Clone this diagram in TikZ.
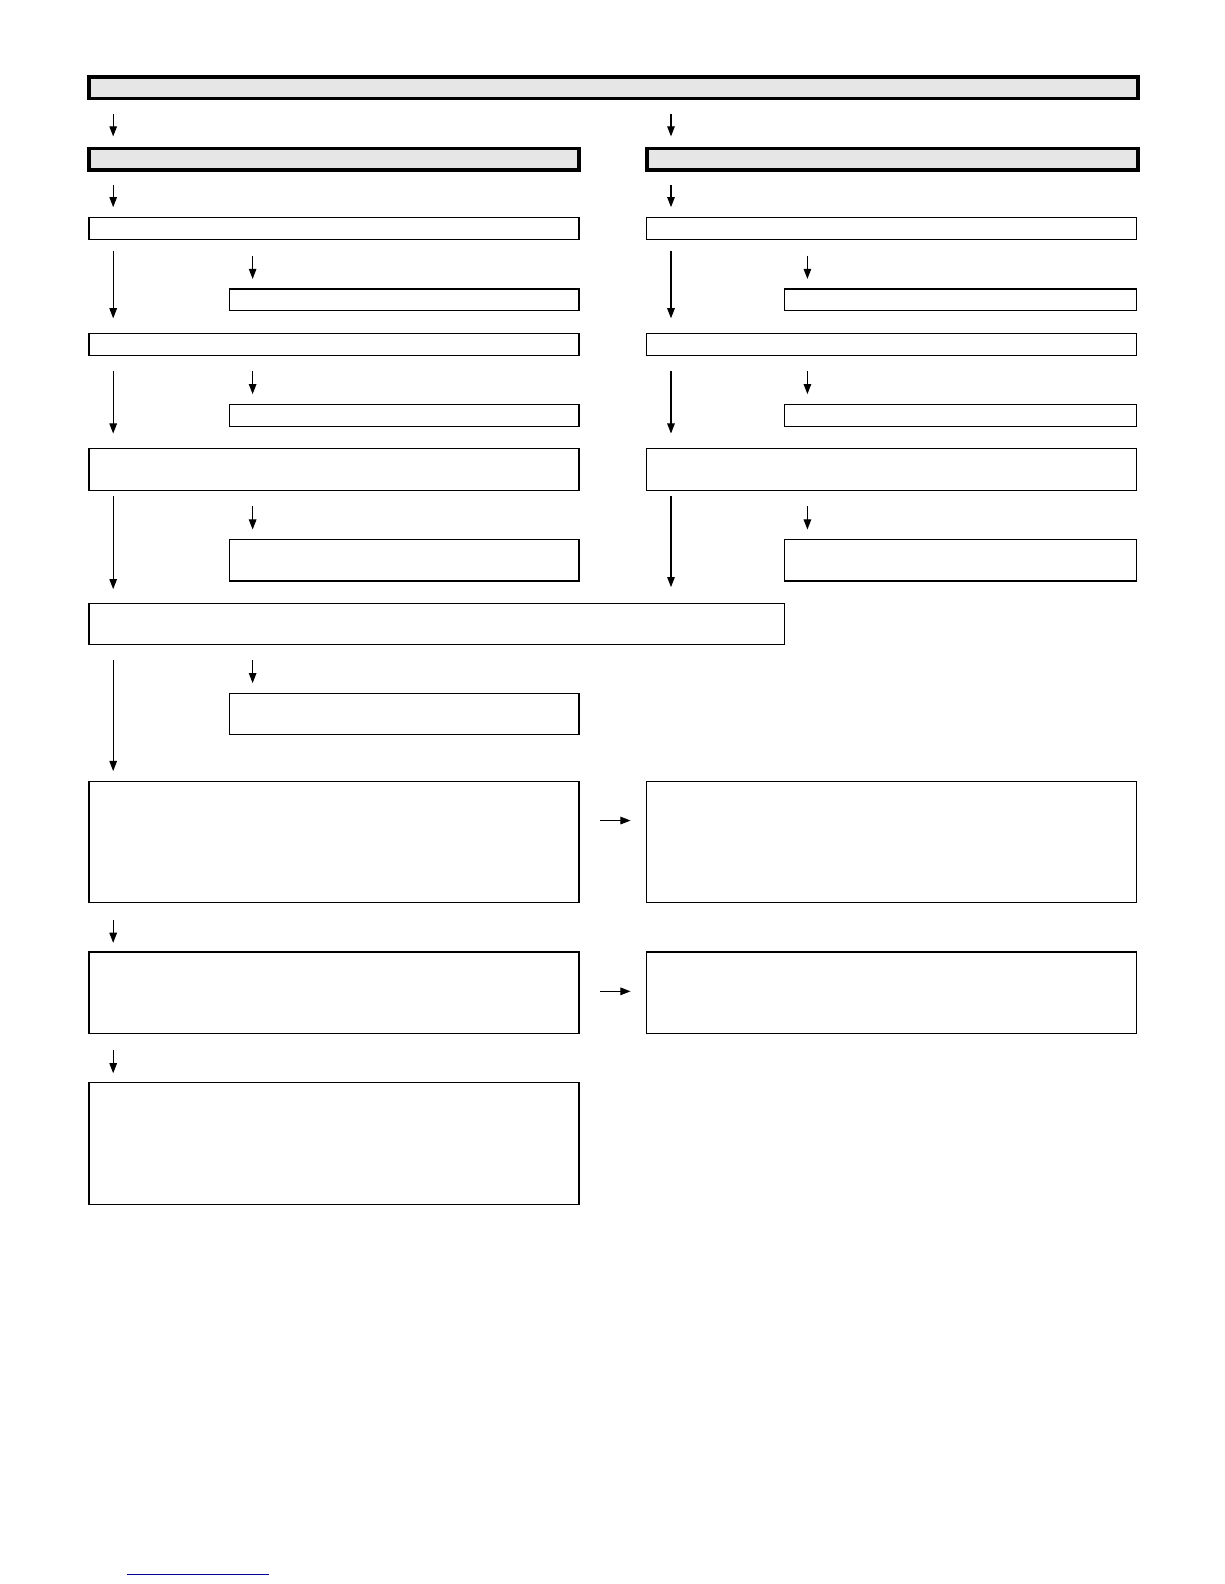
\documentclass[tikz,border=0pt]{standalone}
\usepackage{tikz}
\usetikzlibrary{arrows.meta,calc,positioning}
\definecolor{hdgray}{RGB}{230,230,230}
\definecolor{linkblue}{RGB}{0,0,150}
\tikzstyle{flowarrow} = [line width=1pt,-{Triangle[length=10pt,width=7.5pt]},shorten <=15pt,shorten >=10pt]
\tikzstyle{headbox} = [rectangle, draw, line width=3.5pt, fill=hdgray, anchor=north west, inner sep=0pt, outer sep=0pt]
\tikzstyle{stepbox} = [rectangle, draw, line width=1.2pt, anchor=north west, inner sep=0pt, outer sep=0pt]

\begin{document}
\begin{tikzpicture}[x=1pt,y=-1pt]
\useasboundingbox (0,0) rectangle (1211.3,1567.5);
% header boxes
\node[headbox, minimum width=1038pt, minimum height=21.5pt] (main) at (88,76) {};
\node[headbox, minimum width=485pt, minimum height=21pt] (headL) at (88,147) {};
\node[headbox, minimum width=486pt, minimum height=21pt] (headR) at (640,147) {};

% left and right columns
\node[stepbox, minimum width=485pt, minimum height=22pt] (r1L) at (88,215) {};
\node[stepbox, minimum width=485pt, minimum height=22pt] (r1R) at (640,215) {};
\node[stepbox, minimum width=346pt, minimum height=21pt] (s1L) at (227,286) {};
\node[stepbox, minimum width=349pt, minimum height=21pt] (s1R) at (776,286) {};
\node[stepbox, minimum width=485pt, minimum height=22pt] (r2L) at (88,330) {};
\node[stepbox, minimum width=485pt, minimum height=22pt] (r2R) at (640,330) {};
\node[stepbox, minimum width=346pt, minimum height=22pt] (s2L) at (227,400) {};
\node[stepbox, minimum width=349pt, minimum height=22pt] (s2R) at (776,400) {};
\node[stepbox, minimum width=485pt, minimum height=41pt] (r3L) at (88,444) {};
\node[stepbox, minimum width=485pt, minimum height=41pt] (r3R) at (640,444) {};
\node[stepbox, minimum width=346pt, minimum height=41pt] (s3L) at (227,534) {};
\node[stepbox, minimum width=349pt, minimum height=41pt] (s3R) at (776,534) {};

% joined part
\node[stepbox, minimum width=688pt, minimum height=41pt] (wide) at (88,597) {};
\node[stepbox, minimum width=346pt, minimum height=41pt] (s4) at (227,686) {};
\node[stepbox, minimum width=485pt, minimum height=120pt] (bigL) at (88,773) {};
\node[stepbox, minimum width=485pt, minimum height=120pt] (bigR) at (640,773) {};
\node[stepbox, minimum width=485pt, minimum height=81pt] (midL) at (88,942) {};
\node[stepbox, minimum width=485pt, minimum height=81pt] (midR) at (640,942) {};
\node[stepbox, minimum width=485pt, minimum height=121pt] (last) at (88,1071) {};

% arrows from the headers
\draw[flowarrow, shorten <=15.5pt, shorten >=12pt] ([xshift=24pt]main.south west) -- ([xshift=24pt]headL.north west);
\draw[flowarrow, shorten <=15.5pt, shorten >=12pt] ($(headR.north west |- main.south)+(24,0)$) -- ([xshift=24pt]headR.north west);
\draw[flowarrow] ([xshift=24pt]headL.south west) -- ([xshift=24pt]r1L.north west);
\draw[flowarrow] ([xshift=24pt]headR.south west) -- ([xshift=24pt]r1R.north west);

% arrows in the columns
\foreach \side/\sx in {L/23,R/23} {
  \draw[flowarrow, shorten <=11pt, shorten >=15pt] ([xshift=24pt]r1\side.south west) -- ([xshift=24pt]r2\side.north west);
  \draw[flowarrow, shorten <=16pt] ($(s1\side.north west |- r1\side.south)+(\sx,0)$) -- ([xshift=\sx pt]s1\side.north west);
  \draw[flowarrow, shorten >=15pt] ([xshift=24pt]r2\side.south west) -- ([xshift=24pt]r3\side.north west);
  \draw[flowarrow] ($(s2\side.north west |- r2\side.south)+(\sx,0)$) -- ([xshift=\sx pt]s2\side.north west);
  \draw[flowarrow, shorten <=16pt] ($(s3\side.north west |- r3\side.south)+(\sx,0)$) -- ([xshift=\sx pt]s3\side.north west);
}
\draw[flowarrow, shorten <=6pt, shorten >=14pt] ([xshift=24pt]r3L.south west) -- ([xshift=24pt]wide.north west);
\draw[flowarrow, shorten <=6pt, shorten >=16pt] ([xshift=24pt]r3R.south west) -- ($(r3R.south west |- wide.north)+(24,0)$);

% arrows below the joined box
\draw[flowarrow] ([xshift=24pt]wide.south west) -- ([xshift=24pt]bigL.north west);
\draw[flowarrow] ($(s4.north west |- wide.south)+(23,0)$) -- ([xshift=23pt]s4.north west);
\draw[flowarrow, shorten <=17pt, shorten >=9pt] ([xshift=24pt]bigL.south west) -- ([xshift=24pt]midL.north west);
\draw[flowarrow, shorten <=16pt, shorten >=9pt] ([xshift=24pt]midL.south west) -- ([xshift=24pt]last.north west);
\draw[flowarrow, shorten <=21pt, shorten >=16pt] ([yshift=-39pt]bigL.north east) -- ([yshift=-39pt]bigR.north west);
\draw[flowarrow, shorten <=21pt, shorten >=16pt] ([yshift=-39pt]midL.north east) -- ([yshift=-39pt]midR.north west);

% link line at the foot
\draw[linkblue, line width=1.5pt] (126,1558) -- (266,1558);
\end{tikzpicture}
\end{document}
